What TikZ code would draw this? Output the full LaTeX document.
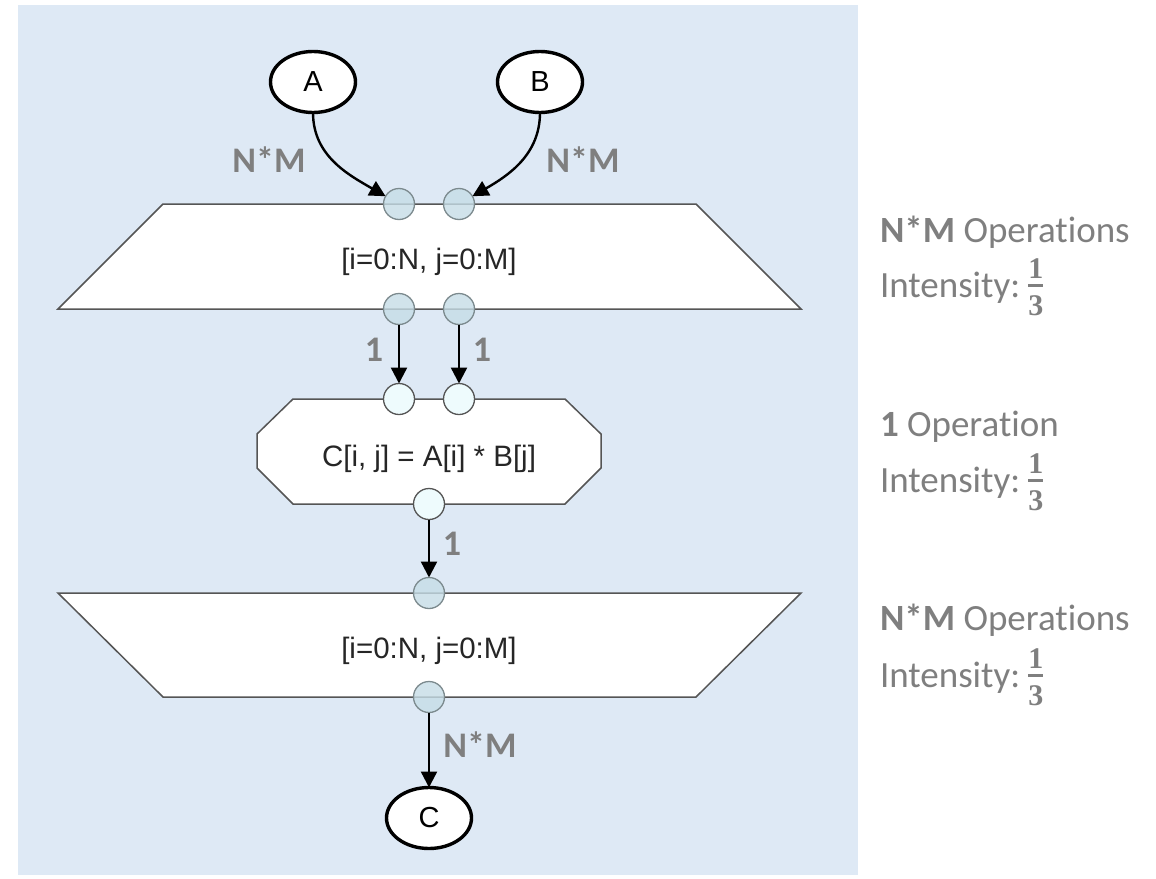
\documentclass[tikz,border=0pt]{standalone}
\usepackage{fontspec}
\setmainfont{Liberation Sans}
\newfontfamily\notefont[Ligatures=NoCommon]{Carlito}
\newfontfamily\fracfont{Liberation Serif}
\usetikzlibrary{arrows.meta,shapes.geometric}

\definecolor{panel}{HTML}{DEE9F5}
\definecolor{shapeline}{HTML}{555555}
\definecolor{labelgray}{HTML}{7F7F7F}
\definecolor{mapconn}{HTML}{C6DDE6}
\definecolor{taskconn}{HTML}{EEFBFD}
\definecolor{connline}{HTML}{7C8A8E}

% stacked bold one-third: numerator, bar, denominator
\newcommand\third{\raisebox{-18pt}{\fracfont\bfseries\fontsize{30}{30}\selectfont
  \vbox{\hbox to 15pt{\hss 1\hss}\kern5.5pt\hrule height 2.4pt\kern8.5pt
        \hbox to 15pt{\hss 3\hss}}}}

\begin{document}
\begin{tikzpicture}[x=1pt,y=-1pt,
  every node/.style={inner sep=0pt, outer sep=0pt},
  io/.style={ellipse, draw=black, line width=3.4pt, fill=white,
    minimum width=85pt, minimum height=61pt,
    font=\fontsize{29}{29}\selectfont},
  scopeshape/.style={draw=shapeline, line width=1.5pt, fill=white, line join=miter},
  codetext/.style={font=\fontsize{29.5}{29.5}\selectfont, text=black!85},
  mapc/.style={circle, draw=connline, line width=1.3pt, fill=mapconn,
    fill opacity=0.8, minimum size=31pt},
  taskc/.style={circle, draw=shapeline, line width=1.3pt, fill=taskconn,
    minimum size=31pt},
  edge/.style={draw=black, line width=2.4pt, -{Triangle[length=16pt,width=16pt]}},
  lbl/.style={font=\notefont\bfseries\fontsize{36}{36}\selectfont, text=labelgray},
  note/.style={anchor=base west, text=labelgray,
    font=\notefont\fontsize{37}{37}\selectfont},
]
\useasboundingbox (0,0) rectangle (1156,878);
\fill[panel] (18,5) rectangle (858,875);

% data nodes
\node[io] (A) at (313,82) {A};
\node[io] (B) at (540,82) {B};
\node[io] (C) at (429,818) {C};

% map entry
\draw[scopeshape] (163,204) -- (696,204) -- (801,309) -- (58,309) -- cycle;
\node[codetext] (entrytxt) at (429,262) {[i=0:N, j=0:M]};

% tasklet
\draw[scopeshape] (293,399) -- (565,399) -- (601,434) -- (601,468) -- (565,504)
  -- (293,504) -- (257,468) -- (257,434) -- cycle;
\node[codetext] (tasktxt) at (429,459) {C[i, j] = A[i] * B[j]};

% map exit
\draw[scopeshape] (58,593) -- (801,593) -- (696,697) -- (163,697) -- cycle;
\node[codetext] (exittxt) at (429,651) {[i=0:N, j=0:M]};

% connectors
\node[mapc] (mi1) at (399,204) {};
\node[mapc] (mi2) at (459,204) {};
\node[mapc] (mo1) at (399,309) {};
\node[mapc] (mo2) at (459,309) {};
\node[taskc] (ti1) at (399,399) {};
\node[taskc] (ti2) at (459,399) {};
\node[taskc] (to) at (429,504) {};
\node[mapc] (xi) at (429,593) {};
\node[mapc] (xo) at (429,697) {};

% memlets
\draw[edge] (A) to[out=-90, in=150] (mi1);
\draw[edge] (B) to[out=-90, in=30] (mi2);
\draw[edge] (mo1) -- (ti1);
\draw[edge] (mo2) -- (ti2);
\draw[edge] (to) -- (xi);
\draw[edge] (xo) -- (C);

% memlet volumes
\node[lbl] (lA) at (269,160) {N*M};
\node[lbl] (lB) at (583,160) {N*M};
\node[lbl] (l1) at (374,350) {1};
\node[lbl] (l2) at (482,350) {1};
\node[lbl] (l3) at (452,544) {1};
\node[lbl] (lC) at (480,745) {N*M};

% operation counts
\node[note] (n1) at (880,242) {\textbf{N*M} Operations};
\node[note] (i1) at (880,297) {Intensity:\kern8pt\third};
\node[note] (n2) at (880,436) {\textbf{1} Operation};
\node[note] (i2) at (880,492) {Intensity:\kern8pt\third};
\node[note] (n3) at (880,630) {\textbf{N*M} Operations};
\node[note] (i3) at (880,687) {Intensity:\kern8pt\third};
\end{tikzpicture}
\end{document}
